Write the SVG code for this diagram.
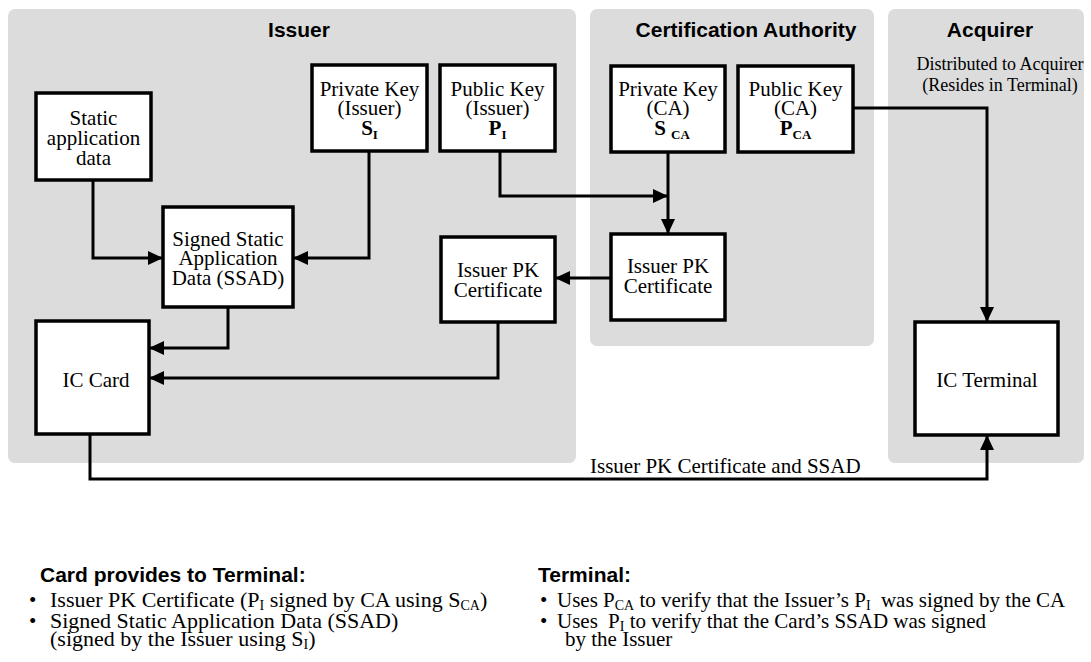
<svg xmlns="http://www.w3.org/2000/svg" width="1091" height="662" viewBox="0 0 1091 662">
<style>
.panel{fill:#dcdcdc;stroke:none}
.box{fill:#ffffff;stroke:#000;stroke-width:3.5}
.t{font-family:"Liberation Serif","Times New Roman",serif;font-size:21px;fill:#000}
.tc{text-anchor:middle}
.h{font-family:"Liberation Sans",Arial,sans-serif;font-size:21px;font-weight:bold;fill:#000}
.conn{fill:none;stroke:#000;stroke-width:3;marker-end:url(#ah)}
.b{font-weight:bold}
.n{font-size:22px}
</style>
<defs>
<marker id="ah" markerUnits="userSpaceOnUse" viewBox="0 0 15 14" refX="15" refY="7" markerWidth="15" markerHeight="14" orient="auto">
<path d="M0,0 L15,7 L0,14 z" fill="#000"/>
</marker>
</defs>
<rect width="1091" height="662" fill="#ffffff"/>
<g id="panels">
<rect class="panel" x="8" y="9" width="568" height="454" rx="7"/>
<rect class="panel" x="590" y="9" width="284" height="337" rx="7"/>
<rect class="panel" x="888" y="9" width="196" height="454" rx="7"/>
<text class="h" x="299" y="37" text-anchor="middle">Issuer</text>
<text class="h" x="746" y="37" text-anchor="middle">Certification Authority</text>
<text class="h" x="990" y="37" text-anchor="middle">Acquirer</text>
<text class="t tc" x="1000" y="70" style="font-size:18px">Distributed to Acquirer</text>
<text class="t tc" x="1000" y="91" style="font-size:18px">(Resides in Terminal)</text>
</g>
<g id="connectors">
<path class="conn" d="M93,180 V258 H163"/>
<path class="conn" d="M369,151 V258 H293"/>
<path class="conn" d="M228,307 V348 H149"/>
<path class="conn" d="M498,322 V378 H149"/>
<path class="conn" d="M500,152 V196 H668"/>
<path class="conn" d="M668,152 V234"/>
<path class="conn" d="M611,278 H555"/>
<path class="conn" d="M853,108 H987 V322"/>
<path class="conn" d="M90,434 V479 H987 V435"/>
<text class="t" x="590" y="473">Issuer PK Certificate and SSAD</text>
</g>
<g id="static-data">
<rect class="box" x="36" y="93" width="115" height="87"/>
<text class="t tc" x="93.5" y="125">Static</text>
<text class="t tc" x="93.5" y="145">application</text>
<text class="t tc" x="93.5" y="165">data</text>
</g>
<g id="private-key-issuer">
<rect class="box" x="312" y="65" width="115" height="86"/>
<text class="t tc" x="369.5" y="96">Private Key</text>
<text class="t tc" x="369.5" y="115">(Issuer)</text>
<text class="t tc b" x="369.5" y="135">S<tspan font-size="13" dy="4">I</tspan></text>
</g>
<g id="public-key-issuer">
<rect class="box" x="440" y="65" width="115" height="86"/>
<text class="t tc" x="497.5" y="96">Public Key</text>
<text class="t tc" x="497.5" y="115">(Issuer)</text>
<text class="t tc b" x="497.5" y="135">P<tspan font-size="13" dy="4">I</tspan></text>
</g>
<g id="private-key-ca">
<rect class="box" x="611" y="66" width="114" height="86"/>
<text class="t tc" x="668" y="96">Private Key</text>
<text class="t tc" x="668" y="115">(CA)</text>
<text class="t tc b" x="672" y="135">S <tspan font-size="13" dy="4">CA</tspan></text>
</g>
<g id="public-key-ca">
<rect class="box" x="738" y="66" width="115" height="86"/>
<text class="t tc" x="795.5" y="96">Public Key</text>
<text class="t tc" x="795.5" y="115">(CA)</text>
<text class="t tc b" x="795.5" y="135">P<tspan font-size="13" dy="4">CA</tspan></text>
</g>
<g id="ssad">
<rect class="box" x="163" y="207" width="130" height="100"/>
<text class="t tc" x="228" y="246">Signed Static</text>
<text class="t tc" x="228" y="265">Application</text>
<text class="t tc" x="228" y="285">Data (SSAD)</text>
</g>
<g id="issuer-pk-cert-issuer">
<rect class="box" x="441" y="237" width="114" height="85"/>
<text class="t tc" x="498" y="277">Issuer PK</text>
<text class="t tc" x="498" y="297">Certificate</text>
</g>
<g id="issuer-pk-cert-ca">
<rect class="box" x="611" y="234" width="114" height="86"/>
<text class="t tc" x="668" y="273">Issuer PK</text>
<text class="t tc" x="668" y="293">Certificate</text>
</g>
<g id="ic-card">
<rect class="box" x="36" y="321" width="113" height="113"/>
<text class="t tc" x="96" y="387">IC Card</text>
</g>
<g id="ic-terminal">
<rect class="box" x="915" y="322" width="143" height="113"/>
<text class="t tc" x="987" y="387">IC Terminal</text>
</g>
<g id="notes">
<text class="h" x="40" y="582">Card provides to Terminal:</text>
<text class="t" x="29" y="607">•</text>
<text class="t n" x="50" y="607">Issuer PK Certificate (P<tspan font-size="14" dy="3">I</tspan><tspan dy="-3"> signed by CA using S</tspan><tspan font-size="14" dy="3">CA</tspan><tspan dy="-3">)</tspan></text>
<text class="t" x="29" y="628">•</text>
<text class="t n" x="50" y="628">Signed Static Application Data (SSAD)</text>
<text class="t n" x="50" y="646">(signed by the Issuer using S<tspan font-size="14" dy="3">I</tspan><tspan dy="-3">)</tspan></text>
<text class="h" x="538" y="582">Terminal:</text>
<text class="t" x="540" y="607">•</text>
<text class="t" x="557" y="607">Uses P<tspan font-size="14" dy="3">CA</tspan><tspan dy="-3"> to verify that the Issuer’s P</tspan><tspan font-size="14" dy="3">I</tspan><tspan dy="-3" dx="5"> was signed by the CA</tspan></text>
<text class="t" x="540" y="628">•</text>
<text class="t" x="557" y="628">Uses <tspan dx="5">P</tspan><tspan font-size="14" dy="3">I</tspan><tspan dy="-3"> to verify that the Card’s SSAD was signed</tspan></text>
<text class="t" x="565" y="646">by the Issuer</text>
</g>
</svg>
